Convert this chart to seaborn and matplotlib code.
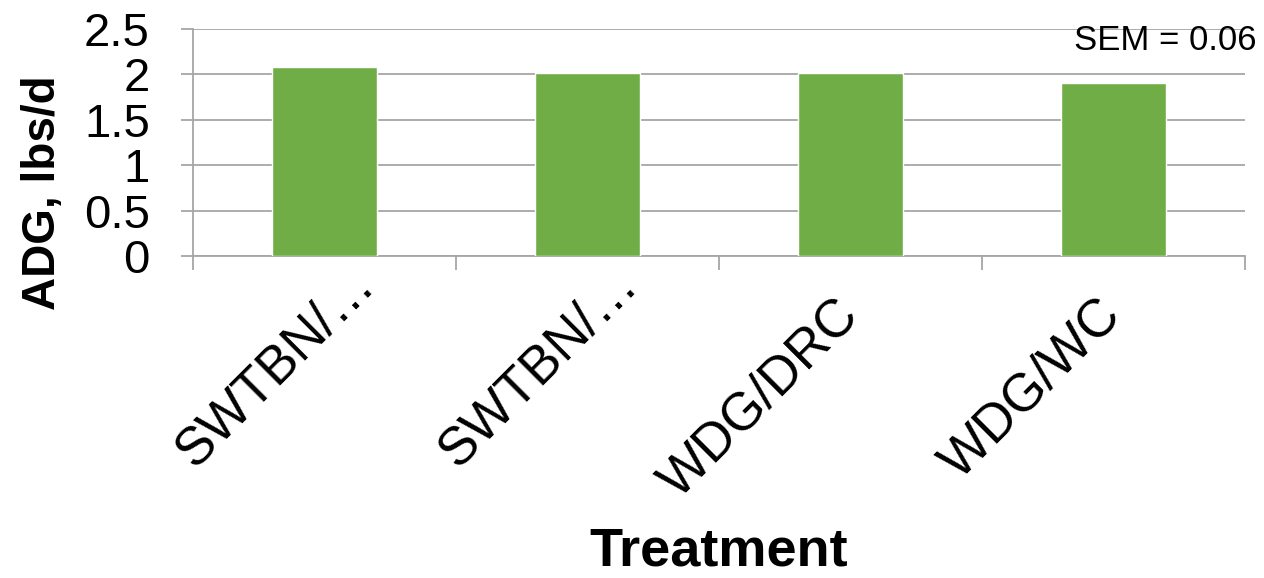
import matplotlib
matplotlib.use("Agg")
import matplotlib.pyplot as plt
import matplotlib.transforms as mtransforms
import seaborn as sns
import pandas as pd

# ---- data ----
categories = ["SWTBN/…", "SWTBN/…", "WDG/DRC", "WDG/WC"]
adg = [2.08, 2.01, 2.01, 1.90]
yticks = [0, 0.5, 1, 1.5, 2, 2.5]
ytick_labels = ["0", "0.5", "1", "1.5", "2", "2.5"]
sem_text = "SEM = 0.06"

sns.set_theme(style="white")
plt.rcParams["font.family"] = ["Liberation Sans", "DejaVu Sans"]
plt.rcParams["text.color"] = "black"

fig = plt.figure(figsize=(12.64, 5.78), dpi=100)
ax = fig.add_axes([193/1264, 1-256/578, (1245-193)/1264, (256-29)/578])

df = pd.DataFrame({"pos": list(range(len(categories))), "adg": adg})
sns.barplot(data=df, x="pos", y="adg", color="#70AD47", saturation=1,
            width=0.4, ax=ax, zorder=3)

ax.set_xlim(-0.5, len(categories) - 0.5)
ax.set_ylim(0, 2.5)
ax.set_yticks(yticks)
ax.set_yticklabels(ytick_labels)
ax.yaxis.grid(True, color="#A6A6A6", linewidth=1.3, zorder=0)
ax.set_axisbelow(True)

for s in ["top", "right"]:
    ax.spines[s].set_visible(False)
for s in ["left", "bottom"]:
    ax.spines[s].set_color("#A6A6A6")
    ax.spines[s].set_linewidth(1.3)

ax.tick_params(axis="y", which="major", left=True, length=9, width=1.3,
               color="#A6A6A6", pad=22, labelsize=34, labelcolor="black")
ax.set_xticks(range(len(categories)))
ax.set_xticklabels(categories, rotation=45, ha="right", va="center",
                   rotation_mode="anchor", fontsize=38, color="black")
ax.tick_params(axis="x", which="major", length=0, pad=37)
ax.set_xticks([i - 0.5 for i in range(len(categories) + 1)], minor=True)
ax.tick_params(axis="x", which="minor", bottom=True, length=10, width=1.3,
               color="#A6A6A6")

# truncated labels sit further along their diagonal, as in the source chart
shift = mtransforms.ScaledTranslation(30/72, 22/72, fig.dpi_scale_trans)
for lab in ax.get_xticklabels():
    if lab.get_text().endswith("…"):
        lab.set_transform(lab.get_transform() + shift)

ax.set_xlabel("")
ax.set_ylabel("")
fig.text(43/1264, 1-193/578, "ADG, lbs/d", rotation=90, ha="center",
         va="center", fontsize=33, fontweight="bold", color="black")
fig.text(719/1264, 1-552/578, "Treatment", ha="center", va="center",
         fontsize=39, fontweight="bold", color="black")
fig.text(1257/1264, 1-40/578, sem_text, ha="right", va="center", fontsize=25,
         color="black")

fig.savefig("out.png", dpi=100)
